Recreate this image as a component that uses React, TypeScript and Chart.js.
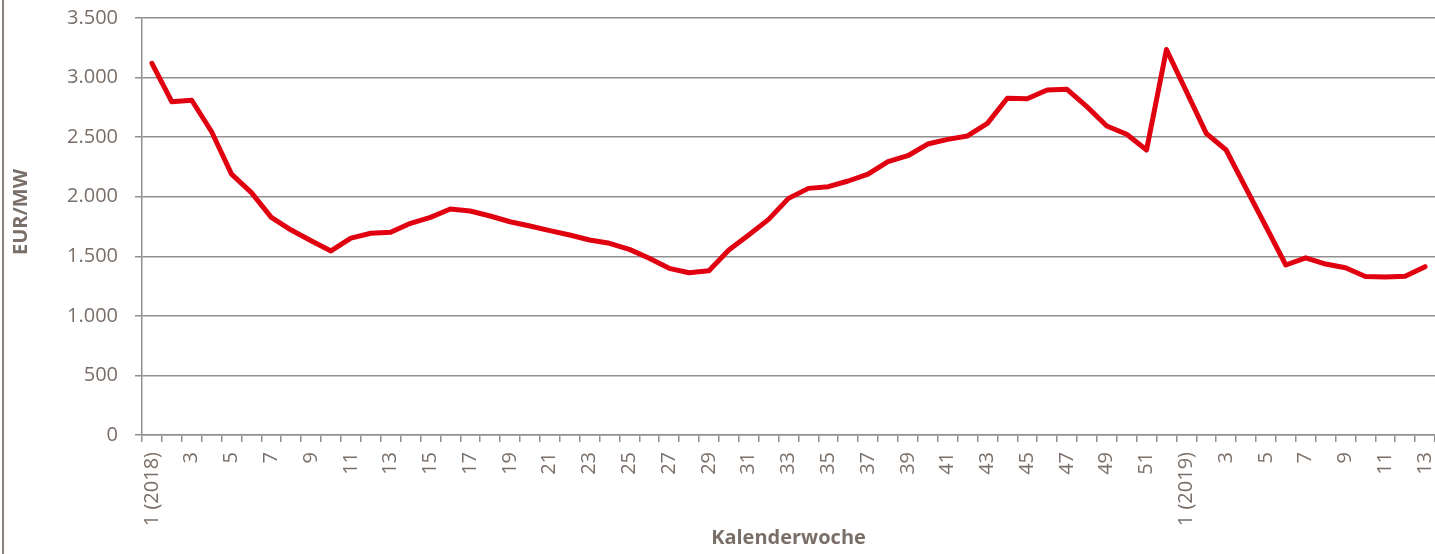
import React, { useEffect, useRef } from "react";
import { Chart, registerables } from "chart.js";

Chart.register(...registerables);

const weeks2018: string[] = Array.from({ length: 52 }, (_, i) => (i === 0 ? "1 (2018)" : String(i + 1)));
const weeks2019: string[] = Array.from({ length: 13 }, (_, i) => (i === 0 ? "1 (2019)" : String(i + 1)));
const categories: string[] = [...weeks2018, ...weeks2019];

const prices2018: number[] = [
  3120, 2797, 2810, 2545, 2190, 2034, 1827, 1720, 1631, 1545,
  1653, 1693, 1701, 1777, 1827, 1897, 1880, 1838, 1790, 1754,
  1715, 1679, 1637, 1609, 1558, 1483, 1399, 1362, 1379, 1553,
  1679, 1810, 1986, 2070, 2084, 2132, 2190, 2294, 2344, 2442,
  2481, 2510, 2616, 2826, 2822, 2896, 2901, 2756, 2594, 2524,
  2392, 3235,
];
const prices2019: number[] = [
  2884, 2532, 2392, 2070, 1750, 1427, 1487, 1435, 1404, 1330,
  1327, 1332, 1413,
];
const prices: number[] = [...prices2018, ...prices2019];

const yMin = 0;
const yMax = 3500;
const yStep = 500;
const yTitle = "EUR/MW";
const xTitle = "Kalenderwoche";

const TEXT = "#7a6f68";
const GRID = "#8f8f8f";
const LINE = "#e0000f";
const FONT = "'Open Sans', 'Noto Sans', sans-serif";

function fmt(v: number): string {
  return String(Math.round(v)).replace(/\B(?=(\d{3})+(?!\d))/g, ".");
}

const decorPlugin = {
  id: "decor",
  afterDraw(chart: any) {
    const ctx = chart.ctx;
    ctx.save();
    ctx.strokeStyle = "#8a807a";
    ctx.lineWidth = 2;
    ctx.beginPath();
    ctx.moveTo(3, 0);
    ctx.lineTo(3, chart.height);
    ctx.stroke();
    // y-axis title
    ctx.translate(21, 212);
    ctx.rotate(-Math.PI / 2);
    ctx.fillStyle = TEXT;
    ctx.font = `bold 20px ${FONT}`;
    ctx.textAlign = "center";
    ctx.textBaseline = "middle";
    ctx.fillText(yTitle, 0, 0);
    ctx.restore();
  },
};

export default function App() {
  const ref = useRef<HTMLCanvasElement | null>(null);
  useEffect(() => {
    if (!ref.current) return;
    const chart = new Chart(ref.current, {
      type: "line",
      data: {
        labels: categories,
        datasets: [
          {
            data: prices,
            borderColor: LINE,
            backgroundColor: LINE,
            borderWidth: 5,
            pointRadius: 0,
            tension: 0,
            borderJoinStyle: "round",
            borderCapStyle: "round",
          },
        ],
      },
      options: {
        responsive: false,
        animation: false,
        layout: { padding: { top: 18, left: 0, right: 0, bottom: 0 } },
        plugins: { legend: { display: false }, tooltip: { enabled: false } },
        scales: {
          x: {
            type: "category",
            offset: true,
            grid: {
              offset: true,
              drawOnChartArea: false,
              drawTicks: true,
              tickLength: 7,
              color: GRID,
              lineWidth: 1.5,
            },
            border: { display: true, color: GRID, width: 1.5 },
            ticks: {
              autoSkip: false,
              minRotation: 90,
              maxRotation: 90,
              padding: 10,
              color: TEXT,
              font: { family: FONT, size: 20 },
              callback: (_v: any, i: number) => (i % 2 === 0 ? categories[i] : ""),
            },
            title: {
              display: true,
              text: xTitle,
              color: TEXT,
              font: { family: FONT, size: 20, weight: "bold" },
              padding: { top: 4, bottom: 4 },
            },
            afterFit: (s: any) => {
              s.height = 119;
              s.paddingLeft = 0;
              s.paddingRight = 0;
            },
          },
          y: {
            min: yMin,
            max: yMax,
            grid: {
              color: GRID,
              lineWidth: 1.5,
              tickLength: 7,
            },
            border: { display: true, color: GRID, width: 1.5 },
            ticks: {
              stepSize: yStep,
              padding: 17,
              color: TEXT,
              font: { family: FONT, size: 20 },
              callback: (v: any) => fmt(Number(v)),
            },
            title: { display: false, text: yTitle },
            afterFit: (s: any) => {
              s.width = 142;
              s.paddingTop = 0;
              s.paddingBottom = 0;
            },
          },
        },
      },
      plugins: [decorPlugin],
    });
    return () => chart.destroy();
  }, []);
  return (
    <canvas
      ref={ref}
      width={1435}
      height={554}
      style={{ position: "absolute", left: 0, top: 0, display: "block" }}
    />
  );
}
